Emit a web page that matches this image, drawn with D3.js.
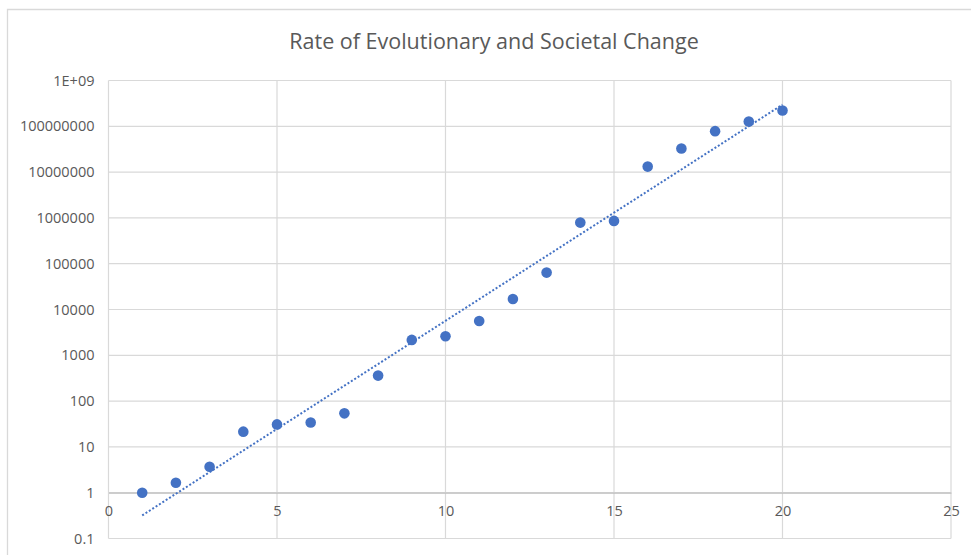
<!DOCTYPE html>
<html>
<head>
<meta charset="utf-8">
<script src="https://cdn.jsdelivr.net/npm/d3@7"></script>
<style>
  body { margin: 0; background: #fff; }
  text { font-family: "Open Sans", sans-serif; fill: #595959; }
</style>
</head>
<body>
<div id="chart"></div>
<script>
// data
var steps = [1, 2, 3, 4, 5, 6, 7, 8, 9, 10, 11, 12, 13, 14, 15, 16, 17, 18, 19, 20];
var rates = [1, 1.65, 3.7, 21.5, 31, 34, 54, 360, 2170, 2610, 5630, 17000, 64000,
             790000, 860000, 13200000, 32700000, 78300000, 127000000, 221000000];
var xTicks = [0, 5, 10, 15, 20, 25];
var yTicks = [0.1, 1, 10, 100, 1000, 10000, 100000, 1000000, 10000000, 100000000, 1000000000];
var yTickLabels = ["0.1", "1", "10", "100", "1000", "10000", "100000", "1000000",
                   "10000000", "100000000", "1E+09"];
var title = "Rate of Evolutionary and Societal Change";

var width = 971, height = 555;
var margin = { top: 80.5, right: 20, bottom: 16.5, left: 108.5 };
var w = 951 - margin.left, h = 538.5 - margin.top;

var svg = d3.select("#chart")
            .append("svg")
            .attr("width", width)
            .attr("height", height);

// chart area border
svg.append("path")
   .attr("d", "M7.5,560 V9.5 H975")
   .attr("fill", "none")
   .attr("stroke", "#d9d9d9")
   .attr("stroke-width", 1.3);

svg.append("text")
   .attr("x", 494)
   .attr("y", 49)
   .attr("text-anchor", "middle")
   .style("font-size", "21.5px")
   .text(title);

var g = svg.append("g")
           .attr("transform", "translate(" + margin.left + "," + margin.top + ")");

var x = d3.scaleLinear().domain([0, 25]).range([0, w]);
var y = d3.scaleLog().domain([0.1, 1e9]).range([h, 0]);

// gridlines
g.selectAll(".hgrid")
 .data(yTicks)
 .enter().append("line")
 .attr("x1", 0).attr("x2", w)
 .attr("y1", function(d) { return y(d); })
 .attr("y2", function(d) { return y(d); })
 .attr("stroke", "#d9d9d9")
 .attr("stroke-width", 1.2);

g.selectAll(".vgrid")
 .data(xTicks)
 .enter().append("line")
 .attr("y1", 0).attr("y2", h)
 .attr("x1", function(d) { return x(d); })
 .attr("x2", function(d) { return x(d); })
 .attr("stroke", "#d9d9d9")
 .attr("stroke-width", 1.2);

// y axis labels
var yAxis = d3.axisLeft(y)
              .tickValues(yTicks)
              .tickFormat(function(d, i) { return yTickLabels[i]; })
              .tickSize(0)
              .tickPadding(14);
var ya = g.append("g").call(yAxis);
ya.select(".domain").remove();
ya.selectAll("text").style("font-size", "14.5px").style("font-family", "Open Sans").attr("fill", "#595959");

// x axis crosses at 1
var xAxis = d3.axisBottom(x)
              .tickValues(xTicks)
              .tickSize(0)
              .tickPadding(13);
var xa = g.append("g")
          .attr("transform", "translate(0," + y(1) + ")")
          .call(xAxis);
xa.select(".domain").attr("stroke", "#bfbfbf").attr("stroke-width", 1.3);
xa.selectAll("text").style("font-size", "14.5px").style("font-family", "Open Sans").attr("fill", "#595959");

// exponential trendline (least squares on ln y)
var mx = d3.mean(steps), my = d3.mean(rates, function(d) { return Math.log(d); });
var sxy = 0, sxx = 0;
steps.forEach(function(s, i) {
  sxy += (s - mx) * (Math.log(rates[i]) - my);
  sxx += (s - mx) * (s - mx);
});
var b = sxy / sxx, a = my - b * mx;
var trend = d3.range(1, 20.01, 0.25).map(function(s) { return [s, Math.exp(a + b * s)]; });

g.append("path")
 .datum(trend)
 .attr("fill", "none")
 .attr("stroke", "#4472c4")
 .attr("stroke-width", 2)
 .attr("stroke-dasharray", "2 2")
 .attr("d", d3.line()
              .x(function(d) { return x(d[0]); })
              .y(function(d) { return y(d[1]); }));

// points
g.selectAll(".dot")
 .data(steps)
 .enter().append("circle")
 .attr("class", "dot")
 .attr("cx", function(d) { return x(d); })
 .attr("cy", function(d, i) { return y(rates[i]); })
 .attr("r", 5.3)
 .attr("fill", "#4472c4");
</script>
</body>
</html>
